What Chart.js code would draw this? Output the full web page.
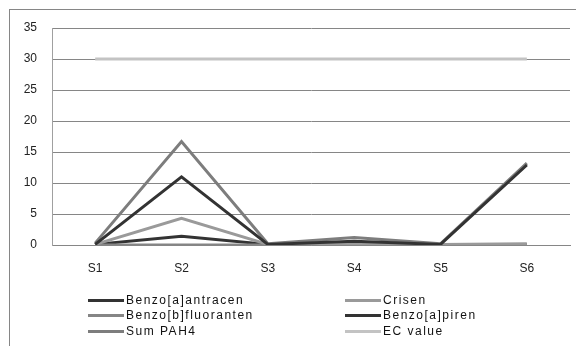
<!DOCTYPE html>
<html>
<head>
<meta charset="utf-8">
<script src="https://cdn.jsdelivr.net/npm/chart.js@4"></script>
<style>
  html, body { margin: 0; padding: 0; background: #fff; overflow: hidden; }
  #wrap { position: relative; width: 576px; height: 346px; overflow: hidden; }
  #frame { position: absolute; left: 9px; top: 9px; width: 700px; height: 500px; border: 1px solid #868686; }
  #chart { position: absolute; left: 0; top: 0; }
  .legend-item { position: absolute; height: 16px; font: 12px "Liberation Sans", Arial, sans-serif; letter-spacing: 1.5px; color: #111; white-space: nowrap; }
  .legend-item span.swatch { position: absolute; left: 0; top: 7px; width: 36px; height: 3px; }
  .legend-item span.label { position: absolute; left: 38px; top: 0; line-height: 16px; }
</style>
</head>
<body>
<div id="wrap">
  <div id="frame"></div>
  <canvas id="chart" width="576" height="346"></canvas>
  <div id="legend"></div>
</div>
<script>
// 카테고리 / 데이터
const sampleLabels = ["S1", "S2", "S3", "S4", "S5", "S6"];
const yTicks = [0, 5, 10, 15, 20, 25, 30, 35];

const benzoAntracen = [0.1, 11.0, 0.1, 0.6, 0.1, 12.9];
const crisen = [0.1, 4.3, 0.1, 0.3, 0.1, 0.2];
const benzoFluoranten = [0.0, 0.0, 0.0, 0.1, 0.0, 0.1];
const benzoPiren = [0.1, 1.4, 0.1, 0.2, 0.1, 0.1];
const sumPAH4 = [0.3, 16.7, 0.2, 1.2, 0.2, 13.2];
const ecValue = [30, 30, 30, 30, 30, 30];

const seriesNames = ["Benzo[a]antracen", "Crisen", "Benzo[b]fluoranten", "Benzo[a]piren", "Sum PAH4", "EC value"];
const seriesData = [benzoAntracen, crisen, benzoFluoranten, benzoPiren, sumPAH4, ecValue];
const seriesColors = ["#333333", "#9a9a9a", "#858585", "#333333", "#7d7d7d", "#c3c3c3"];

const datasets = seriesNames.map((name, i) => ({
    label: name,
    data: seriesData[i],
    borderColor: seriesColors[i],
    backgroundColor: seriesColors[i],
    borderWidth: 3,
    pointRadius: 0,
    tension: 0,
    fill: false
}));

const config = {
    type: 'line',
    data: { labels: sampleLabels, datasets: datasets },
    options: {
        responsive: false,
        animation: false,
        layout: { padding: { left: 0, right: 6, top: 28, bottom: 0 } },
        scales: {
            x: {
                offset: true,
                grid: { display: false, drawTicks: false },
                border: { display: true, color: '#868686', width: 1 },
                ticks: {
                    padding: 16,
                    color: '#222',
                    font: { family: 'Liberation Sans', size: 12 }
                },
                afterFit: s => { s.height = 101; }
            },
            y: {
                min: 0,
                max: 35,
                afterBuildTicks: s => { s.ticks = yTicks.map(v => ({ value: v })); },
                grid: { color: '#868686', lineWidth: 1, drawTicks: false },
                border: { display: true, color: '#a0a0a0', width: 1 },
                ticks: {
                    padding: 15,
                    color: '#222',
                    font: { family: 'Liberation Sans', size: 12 }
                },
                afterFit: s => { s.width = 52; }
            }
        },
        plugins: {
            legend: { display: false },
            tooltip: { enabled: false }
        }
    }
};

const chart = new Chart(document.getElementById("chart"), config);

// 범례 (2열)
const legendBox = document.getElementById("legend");
const colX = [88, 345];
const rowY = [292, 307, 323];
chart.data.datasets.forEach((ds, i) => {
    const item = document.createElement("div");
    item.className = "legend-item";
    item.style.left = colX[i % 2] + "px";
    item.style.top = rowY[Math.floor(i / 2)] + "px";
    const sw = document.createElement("span");
    sw.className = "swatch";
    sw.style.background = ds.borderColor;
    const lb = document.createElement("span");
    lb.className = "label";
    lb.textContent = ds.label;
    item.appendChild(sw);
    item.appendChild(lb);
    legendBox.appendChild(item);
});
</script>
</body>
</html>
